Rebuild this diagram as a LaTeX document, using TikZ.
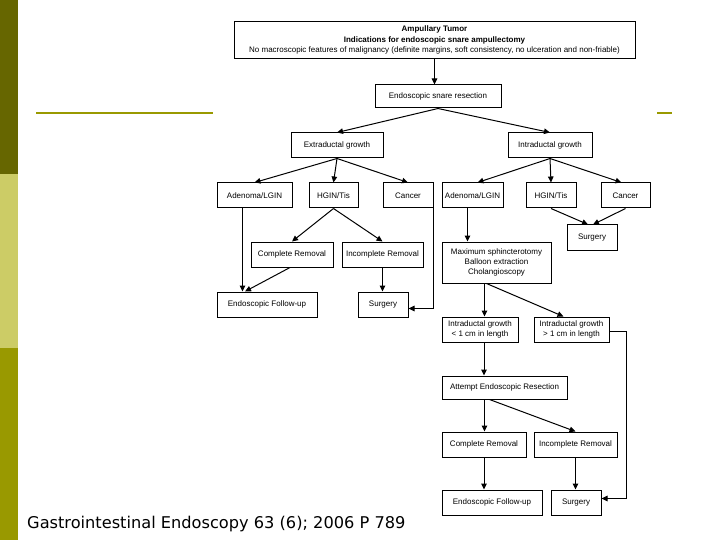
\documentclass[tikz,border=0pt]{standalone}
\usepackage{fontspec}
\setmainfont{Liberation Sans}
\newfontfamily\capfont{DejaVu Sans}
\usetikzlibrary{arrows.meta,positioning,calc}
\definecolor{olivedark}{HTML}{666600}
\definecolor{olivelight}{HTML}{CCCC66}
\definecolor{olivemid}{HTML}{999900}
\begin{document}
\begin{tikzpicture}[
    x=1pt, y=-1pt,
    box/.style={draw, line width=1pt, minimum height=25pt, inner sep=1pt, align=center, font=\fontsize{8}{10.3}\selectfont},
    arr/.style={-{Triangle[length=6pt,width=5.5pt]}, line width=1pt}
]
\useasboundingbox (0,0) rectangle (720,540);
% slide frame
\fill[olivedark] (0,0) rectangle (18,174);
\fill[olivelight] (0,174) rectangle (18,348);
\fill[olivemid] (0,348) rectangle (18,540);
\draw[olivemid, line width=1.2pt] (36,113) -- (213,113);
\draw[olivemid, line width=1.2pt] (657,113) -- (672,113);

\node[box, minimum width=401pt, minimum height=37pt] (tumor) at (434.5,40) {\textbf{Ampullary Tumor}\\\textbf{Indications for endoscopic snare ampullectomy}\\No macroscopic features of malignancy (definite margins, soft consistency, no ulceration and non-friable)};
\node[box, minimum width=126pt, minimum height=23pt] (snare) at (438,96.5) {Endoscopic snare resection};

\node[box, minimum width=92pt] (extra) at (337,145.5) {Extraductal growth};
\node[box, minimum width=84pt] (intra) at (550,145.5) {Intraductal growth};

% extraductal branch
\node[box, minimum width=75pt] (eAden) at (254.5,195.5) {Adenoma/LGIN};
\node[box, minimum width=49pt] (eHgin) at (333.5,195.5) {HGIN/Tis};
\node[box, minimum width=50pt] (eCanc) at (408,195.5) {Cancer};
\node[box, minimum width=82pt] (eComp) at (292,254.5) {Complete Removal};
\node[box, minimum width=81pt] (eIncomp) at (382.5,254.5) {Incomplete Removal};
\node[box, minimum width=100pt] (eFollow) at (267,304.5) {Endoscopic Follow-up};
\node[box, minimum width=50pt] (eSurg) at (383,304.5) {Surgery};

% intraductal branch
\node[box, minimum width=61pt] (iAden) at (472.5,195.5) {Adenoma/LGIN};
\node[box, minimum width=50pt] (iHgin) at (551,195.5) {HGIN/Tis};
\node[box, minimum width=49pt] (iCanc) at (625.5,195.5) {Cancer};
\node[box, minimum width=50pt] (iSurg) at (592,237.5) {Surgery};
\node[box, minimum width=109pt, minimum height=41pt] (sphinct) at (496.5,262.5) {Maximum sphincterotomy\\Balloon extraction\\Cholangioscopy};
\node[box, minimum width=76pt] (small) at (480,329.5) {Intraductal growth\\< 1 cm in length};
\node[box, minimum width=75pt] (large) at (571.5,329.5) {Intraductal growth\\> 1 cm in length};
\node[box, minimum width=125pt, minimum height=23pt] (attempt) at (504.5,387.5) {Attempt Endoscopic Resection};
\node[box, minimum width=84pt] (iComp) at (484,444.5) {Complete Removal};
\node[box, minimum width=83pt] (iIncomp) at (575.5,444.5) {Incomplete Removal};
\node[box, minimum width=100pt] (iFollow) at (492,502.5) {Endoscopic Follow-up};
\node[box, minimum width=50pt] (iSurg2) at (576,502.5) {Surgery};

\node[anchor=base west, inner sep=0pt, font=\capfont\fontsize{16.2}{18}\selectfont] (source) at (27,528) {Gastrointestinal Endoscopy 63 (6); 2006 P 789};

\draw[arr] (tumor.south) -- (tumor.south |- snare.north);
\draw[arr] (snare.south) -- (extra.north);
\draw[arr] (snare.south) -- (intra.north);

\draw[arr] (extra.south) -- (eAden.north);
\draw[arr] (extra.south) -- (eHgin.north);
\draw[arr] (extra.south) -- (eCanc.north);
\draw[arr] ([xshift=-12pt]eAden.south) -- ([xshift=-12pt]eAden.south |- eFollow.north);
\draw[arr] (eHgin.south) -- (eComp.north);
\draw[arr] (eHgin.south) -- (eIncomp.north);
\draw[arr] ([xshift=-2pt]eComp.south) -- ([xshift=-22pt]eFollow.north);
\draw[arr] (eIncomp.south) -- (eIncomp.south |- eSurg.north);
\draw[arr] (eCanc.south east) |- ([yshift=-4pt]eSurg.east);

\draw[arr] (intra.south) -- ([xshift=5pt]iAden.north);
\draw[arr] (intra.south) -- (iHgin.north);
\draw[arr] (intra.south) -- ([xshift=-4pt]iCanc.north);
\draw[arr] (iHgin.south) -- ([xshift=-4pt]iSurg.north);
\draw[arr] (iCanc.south) -- ([xshift=1pt]iSurg.north);
\draw[arr] ([xshift=-5pt]iAden.south) -- ([xshift=-5pt]iAden.south |- sphinct.north);
\draw[arr] ([xshift=-12pt]sphinct.south) -- ([xshift=-12pt]sphinct.south |- small.north);
\draw[arr] ([xshift=-10pt]sphinct.south) -- ([xshift=-8pt]large.north);
\draw[arr] ([xshift=4pt]small.south) -- ([xshift=4pt]small.south |- attempt.north);
\draw[arr] ([xshift=-20pt]attempt.south) -- ([xshift=-20pt]attempt.south |- iComp.north);
\draw[arr] ([xshift=-15pt]attempt.south) -- (iIncomp.north);
\draw[arr] (iComp.south) -- (iComp.south |- iFollow.north);
\draw[arr] (iIncomp.south) -- (iIncomp.south |- iSurg2.north);
\draw[arr] ([yshift=-2pt]large.east) -- ++(17,0) |- ([yshift=4pt]iSurg2.east);
\end{tikzpicture}
\end{document}
